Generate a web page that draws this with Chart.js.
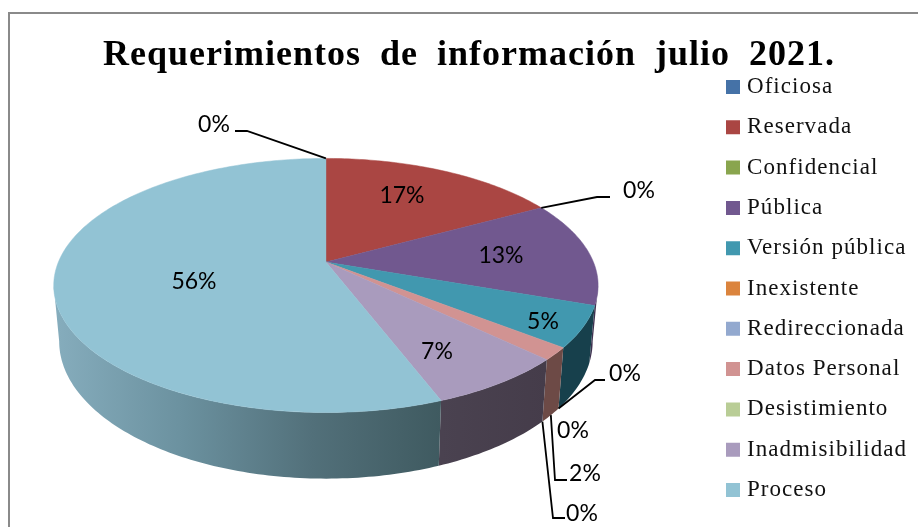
<!DOCTYPE html>
<html>
<head>
<meta charset="utf-8">
<title>Requerimientos de información julio 2021</title>
<script src="https://cdn.jsdelivr.net/npm/chart.js@4/dist/chart.umd.min.js"></script>
<style>
  html, body { margin: 0; padding: 0; background: #fff; overflow: hidden; }
  #frame { position: absolute; left: 8px; top: 12px; width: 950px; height: 560px; border: 2px solid #8a8a8a; }
  #wrap { position: absolute; left: 0; top: 0; width: 918px; height: 527px; }
</style>
</head>
<body>
<div id="frame"></div>
<div id="wrap"><canvas id="chart" width="918" height="527"></canvas></div>
<script>
const categories = ['Oficiosa', 'Reservada', 'Confidencial', 'Pública', 'Versión pública', 'Inexistente',
    'Redireccionada', 'Datos Personal', 'Desistimiento', 'Inadmisibilidad', 'Proceso'];
// estimated from the slice edges, the printed labels are these rounded
const percentages = [0, 17, 0, 13.4, 5.2, 0, 0, 1.6, 0, 7.0, 55.8];
const topColors = ['#4572A7', '#AA4643', '#89A54E', '#71588F', '#4198AF', '#DB843D',
    '#93A9CF', '#D19392', '#B9CD96', '#A99BBD', '#92C3D4'];

// side wall colours, left to right
const wallColors = [
    ['#2c4a6e'], ['#6e2d2b'], ['#586b32'], ['#3f3150'], ['#17404c'], ['#8e5527'],
    ['#5f6e87'], ['#6d4a46'], ['#78855f'], ['#4a4250', '#453c4a'],
    ['#86adbd', '#6b919f', '#52707a', '#3f5a60']
];

// the tilted disc, measured against the arc Chart.js laid out
const view = { dx: -49, dy: -42, sx: 1.225, sy: 0.562, tilt: 0.184, drop: 0.247, narrow: 0.98 };

// label centres and the elbow of their leader lines
const labelSpots = [
    { text: [214, 125], line: [[235, 131], [247, 131]], low: false },
    { text: [402, 196] },
    { text: [639, 191], line: [[610, 197], [597, 197]], low: false },
    { text: [501, 256] },
    { text: [543, 322] },
    { text: [625, 374], line: [[605, 380], [595, 380]], low: true },
    { text: [573, 431] },
    { text: [585, 474], line: [[567, 480], [555, 480]], low: true },
    { text: [582, 514], line: [[565, 518], [553, 518]], low: true },
    { text: [437, 352] },
    { text: [194, 282] }
];

// angle is the Chart.js one (radians, -PI/2 at the top, going clockwise)
function project(arc, angle, low) {
    const u = Math.cos(angle);
    const v = Math.sin(angle);
    const R = arc.outerRadius;
    const den = 1 - view.tilt * v;
    const widen = low ? view.narrow : 1;
    const wall = low ? view.drop * R : 0;
    return {
        x: arc.x + view.dx + R * view.sx * widen * u / den,
        y: arc.y + view.dy + (R * view.sy * v + wall) / den
    };
}

function traceRim(ctx, arc, from, to, low, first) {
    const steps = Math.max(2, Math.ceil(Math.abs(to - from) * 60));
    for (let i = 0; i <= steps; i++) {
        const p = project(arc, from + (to - from) * i / steps, low);
        if (i === 0 && first) ctx.moveTo(p.x, p.y);
        else ctx.lineTo(p.x, p.y);
    }
}

// letter spacing only for the length of one box's draw
function spaced(box, letter, word) {
    const draw = box.draw;
    box.draw = function (area) {
        const ctx = this.ctx;
        ctx.save();
        ctx.letterSpacing = letter;
        ctx.wordSpacing = word;
        draw.call(this, area);
        ctx.restore();
    };
}

const pie3d = {
    id: 'pie3d',
    afterLayout(chart) {
        const legend = chart.legend;
        legend.left = 713.2;
        legend.right = 918;
        legend.top = 58.2;
        legend.bottom = 570;
        if (!legend.spacedDone) {
            spaced(legend, '1.05px', '0px');
            spaced(chart.titleBlock, '1px', '9px');
            legend.spacedDone = true;
        }
    },
    beforeDatasetDraw(chart) {
        const ctx = chart.ctx;
        const arcs = chart.getDatasetMeta(0).data;
        // the disc's outline is widest a little in front of the middle
        const edge = Math.asin(view.tilt);

        // walls first, only the front of the rim shows
        arcs.forEach((arc, i) => {
            if (percentages[i] === 0) return;
            const from = Math.max(arc.startAngle, edge);
            const to = Math.min(arc.endAngle, Math.PI - edge);
            if (to <= from) return;
            const a = project(arc, to, false).x;
            const b = project(arc, from, false).x;
            const g = ctx.createLinearGradient(a, 0, b, 0);
            const stops = wallColors[i];
            stops.forEach((c, k) => g.addColorStop(stops.length > 1 ? k / (stops.length - 1) : 0, c));
            ctx.beginPath();
            traceRim(ctx, arc, from, to, false, true);
            traceRim(ctx, arc, to, from, true, false);
            ctx.closePath();
            ctx.fillStyle = g;
            ctx.fill();
        });

        // top face
        arcs.forEach((arc, i) => {
            if (percentages[i] === 0) return;
            ctx.beginPath();
            ctx.moveTo(arc.x + view.dx, arc.y + view.dy);
            traceRim(ctx, arc, arc.startAngle, arc.endAngle, false, false);
            ctx.closePath();
            ctx.fillStyle = topColors[i];
            ctx.fill();
            ctx.strokeStyle = topColors[i];
            ctx.lineWidth = 0.5;
            ctx.stroke();
        });
        return false;
    },
    afterDatasetsDraw(chart) {
        const ctx = chart.ctx;
        const arcs = chart.getDatasetMeta(0).data;
        ctx.save();
        ctx.font = '23px Lato';
        ctx.fillStyle = '#000';
        ctx.textAlign = 'center';
        ctx.textBaseline = 'middle';
        arcs.forEach((arc, i) => {
            const spot = labelSpots[i];
            ctx.fillText(Math.round(percentages[i]) + '%', spot.text[0], spot.text[1]);
            if (!spot.line) return;
            const end = project(arc, (arc.startAngle + arc.endAngle) / 2, spot.low);
            ctx.beginPath();
            ctx.moveTo(spot.line[0][0], spot.line[0][1]);
            ctx.lineTo(spot.line[1][0], spot.line[1][1]);
            ctx.lineTo(end.x, end.y);
            ctx.strokeStyle = '#000';
            ctx.lineWidth = 1.8;
            ctx.stroke();
        });
        ctx.restore();
    }
};

new Chart(document.getElementById('chart'), {
    type: 'pie',
    data: {
        labels: categories,
        // the border only thickens the legend boxes: 5 + 9 gives a 14px box with the text close to it
        datasets: [{ data: percentages, backgroundColor: topColors, borderColor: topColors, borderWidth: 9 }]
    },
    options: {
        responsive: false,
        animation: false,
        layout: { padding: { left: 20, right: 0, top: 0, bottom: 0 } },
        plugins: {
            tooltip: { enabled: false },
            title: {
                display: true,
                text: 'Requerimientos de información julio 2021.',
                color: '#000',
                font: { family: '"Liberation Serif"', size: 36, weight: 'bold' },
                padding: { top: 34, bottom: 4 }
            },
            legend: {
                position: 'right',
                align: 'start',
                labels: {
                    boxWidth: 5,
                    boxHeight: 5,
                    padding: 17.3,
                    color: '#111',
                    font: { family: '"Liberation Serif"', size: 23 }
                }
            }
        }
    },
    plugins: [pie3d]
});
</script>
</body>
</html>
